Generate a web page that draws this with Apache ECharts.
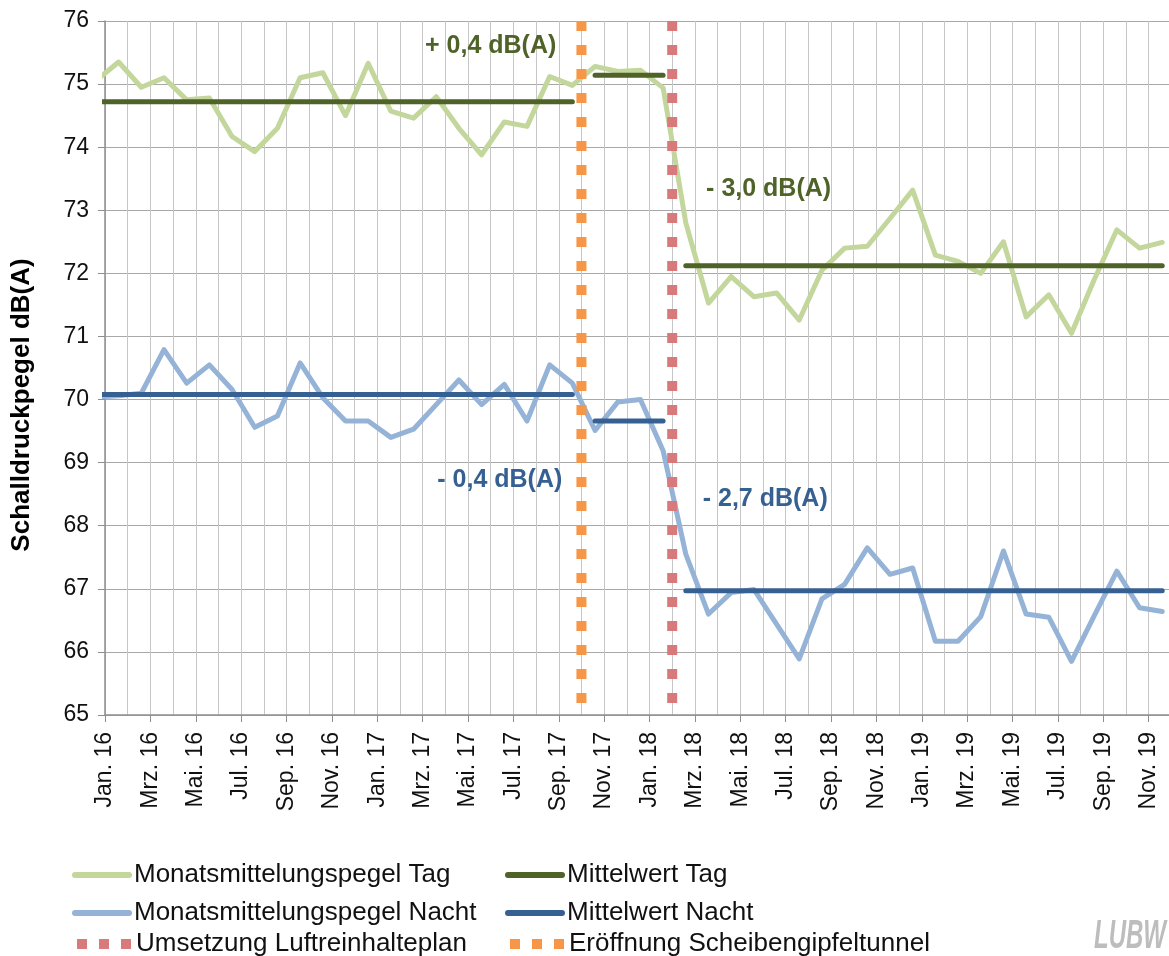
<!DOCTYPE html>
<html>
<head>
<meta charset="utf-8">
<title>Schalldruckpegel</title>
<script src="https://cdn.jsdelivr.net/npm/echarts@6/dist/echarts.min.js"></script>
<style>
  html, body { margin: 0; padding: 0; background: #fff; }
  #chart { width: 1169px; height: 956px; }
</style>
</head>
<body>
<div id="chart"></div>
<script>
// Monate der Messwerte (Dez. 15 liegt links vor der Achse und wird abgeschnitten)
const months = [
  'Dez. 15',
  'Jan. 16', 'Feb. 16', 'Mrz. 16', 'Apr. 16', 'Mai. 16', 'Jun. 16', 'Jul. 16', 'Aug. 16', 'Sep. 16', 'Okt. 16', 'Nov. 16', 'Dez. 16',
  'Jan. 17', 'Feb. 17', 'Mrz. 17', 'Apr. 17', 'Mai. 17', 'Jun. 17', 'Jul. 17', 'Aug. 17', 'Sep. 17', 'Okt. 17', 'Nov. 17', 'Dez. 17',
  'Jan. 18', 'Feb. 18', 'Mrz. 18', 'Apr. 18', 'Mai. 18', 'Jun. 18', 'Jul. 18', 'Aug. 18', 'Sep. 18', 'Okt. 18', 'Nov. 18', 'Dez. 18',
  'Jan. 19', 'Feb. 19', 'Mrz. 19', 'Apr. 19', 'Mai. 19', 'Jun. 19', 'Jul. 19', 'Aug. 19', 'Sep. 19', 'Okt. 19', 'Nov. 19'
]

// Achsenbeschriftung (jeder zweite Monat)
const tickLabels = [
  'Jan. 16', 'Mrz. 16', 'Mai. 16', 'Jul. 16', 'Sep. 16', 'Nov. 16',
  'Jan. 17', 'Mrz. 17', 'Mai. 17', 'Jul. 17', 'Sep. 17', 'Nov. 17',
  'Jan. 18', 'Mrz. 18', 'Mai. 18', 'Jul. 18', 'Sep. 18', 'Nov. 18',
  'Jan. 19', 'Mrz. 19', 'Mai. 19', 'Jul. 19', 'Sep. 19', 'Nov. 19'
]

// Monatsmittelungspegel Tag, dB(A)
const dayLevels = [
  75.05,
  75.35, 74.95, 75.10, 74.75, 74.78, 74.17, 73.93, 74.30, 75.10, 75.18, 74.50, 75.33,
  74.57, 74.46, 74.80, 74.30, 73.88, 74.40, 74.33, 75.12, 74.98, 75.28, 75.20, 75.22,
  74.94, 72.80, 71.53, 71.95, 71.63, 71.69, 71.26, 72.05, 72.40, 72.43, 72.87, 73.32,
  72.29, 72.19, 72.00, 72.50, 71.31, 71.66, 71.05, 71.90, 72.69, 72.40, 72.49
]

// Monatsmittelungspegel Nacht, dB(A)
const nightLevels = [
  70.04,
  70.06, 70.10, 70.79, 70.26, 70.55, 70.16, 69.56, 69.74, 70.58, 70.03, 69.66, 69.66,
  69.40, 69.53, 69.92, 70.31, 69.92, 70.24, 69.66, 70.55, 70.26, 69.51, 69.96, 70.00,
  69.19, 67.55, 66.60, 66.94, 66.99, 66.44, 65.89, 66.84, 67.07, 67.65, 67.23, 67.33,
  66.17, 66.17, 66.56, 67.60, 66.60, 66.55, 65.85, 66.57, 67.28, 66.70, 66.64
]

// Zeitabschnitte und Mittelwerte
const periodStarts = ['Dez. 15', 'Okt. 17', 'Feb. 18']
const meanDay = [74.72, 75.14, 72.12]
const meanNight = [70.08, 69.66, 66.97]

// Ereignisse (Monatsbeginn)
const eventNames = ['Umsetzung Luftreinhalteplan', 'Eröffnung Scheibengipfeltunnel']
const eventMonths = ['Feb. 18', 'Okt. 17']

const yMin = 65
const yMax = 76

const C = {
  dayLight: '#c3d69b',
  dayDark: '#4f6228',
  nightLight: '#95b3d7',
  nightDark: '#376092',
  plan: '#d8797c',
  tunnel: '#f79646'
}
const FONT = '"Liberation Sans", Arial, sans-serif'
const DOTS = [10, 14]

// Messpunkt liegt etwa in der Monatsmitte
const pointOffset = 0.6
const xOf = i => i - 1 + pointOffset

const lineSeries = (name, values, color) => ({
  name,
  type: 'line',
  data: values.map((v, i) => [xOf(i), v]),
  symbol: 'none',
  lineStyle: { color, width: 5, cap: 'round', join: 'round' },
  itemStyle: { color },
  z: 2
})

const starts = periodStarts.map(m => months.indexOf(m))
const meanSeries = (name, means, color) => means.map((m, k) => {
  const a = starts[k]
  const b = k + 1 < starts.length ? starts[k + 1] - 1 : months.length - 1
  const data = []
  for (let i = a; i <= b; i++) data.push([xOf(i), m])
  return {
    name,
    type: 'line',
    data,
    symbol: 'none',
    lineStyle: { color, width: 5, cap: 'round' },
    itemStyle: { color },
    z: 3
  }
})

const eventSeries = eventNames.map((name, k) => {
  const x = months.indexOf(eventMonths[k]) - 1
  const color = k === 0 ? C.plan : C.tunnel
  return {
    name,
    type: 'line',
    data: [[x, yMax], [x, yMin]],
    symbol: 'none',
    lineStyle: { color, width: 10, type: DOTS, cap: 'butt' },
    itemStyle: { color },
    z: 4
  }
})

const fmtDiff = d => (d >= 0 ? '+ ' : '- ') + Math.abs(d).toFixed(1).replace('.', ',') + ' dB(A)'

const notes = [
  { text: fmtDiff(meanDay[1] - meanDay[0]), at: [17.0, 75.6], color: C.dayDark },
  { text: fmtDiff(meanDay[2] - meanDay[1]), at: [29.25, 73.33], color: C.dayDark },
  { text: fmtDiff(meanNight[1] - meanNight[0]), at: [17.4, 68.73], color: C.nightDark },
  { text: fmtDiff(meanNight[2] - meanNight[1]), at: [29.1, 68.42], color: C.nightDark }
]

// Legende: 3 Zeilen x 2 Spalten, je Zelle eine eigene Legende
const legendRows = [
  ['Monatsmittelungspegel Tag', 'Mittelwert Tag'],
  ['Monatsmittelungspegel Nacht', 'Mittelwert Nacht'],
  ['Umsetzung Luftreinhalteplan', 'Eröffnung Scheibengipfeltunnel']
]
const rowTops = [862, 900, 931]
const colLefts = [72, 505]

const legends = []
legendRows.forEach((row, r) => {
  row.forEach((name, c) => {
    const dotted = eventNames.includes(name)
    legends.push({
      orient: 'horizontal',
      left: colLefts[c],
      top: rowTops[r],
      padding: 0,
      itemWidth: 54,
      itemHeight: 14,
      selectedMode: false,
      itemStyle: { opacity: 0 },
      textStyle: { fontFamily: FONT, fontSize: 26, color: '#111' },
      data: [{
        name,
        lineStyle: dotted
          ? { width: 10, type: [10, 12], cap: 'butt' }
          : { width: 6, cap: 'round' }
      }]
    })
  })
})

const chart = echarts.init(document.getElementById('chart'))

chart.setOption({
  animation: false,
  backgroundColor: '#fff',
  grid: {
    left: 105,
    top: 21,
    bottom: 241,
    right: -25,
    containLabel: false,
    outerBoundsMode: 'none'
  },
  legend: legends,
  xAxis: {
    type: 'value',
    min: 0,
    max: 48,
    interval: 2,
    axisLine: { show: true, lineStyle: { color: '#8e8e8e', width: 1.5 } },
    axisTick: { show: true, length: 7, lineStyle: { color: '#8e8e8e' } },
    axisLabel: {
      rotate: 90,
      fontFamily: FONT,
      fontSize: 23,
      color: '#111',
      margin: 17,
      formatter: v => tickLabels[v / 2] || ''
    },
    splitLine: { show: true, lineStyle: { color: '#c6c6c6', width: 1 } },
    minorTick: { show: false, splitNumber: 2 },
    minorSplitLine: { show: true, lineStyle: { color: '#c6c6c6', width: 1 } }
  },
  yAxis: {
    type: 'value',
    min: yMin,
    max: yMax,
    interval: 1,
    axisLine: { show: true, lineStyle: { color: '#8e8e8e', width: 1.5 } },
    axisTick: { show: true, length: 7, lineStyle: { color: '#8e8e8e' } },
    axisLabel: { fontFamily: FONT, fontSize: 23, color: '#111', margin: 16 },
    splitLine: { show: true, lineStyle: { color: '#a8a8a8', width: 1.2 } }
  },
  series: [
    lineSeries('Monatsmittelungspegel Tag', dayLevels, C.dayLight),
    lineSeries('Monatsmittelungspegel Nacht', nightLevels, C.nightLight),
    ...meanSeries('Mittelwert Tag', meanDay, C.dayDark),
    ...meanSeries('Mittelwert Nacht', meanNight, C.nightDark),
    ...eventSeries
  ]
})

// Beschriftungen an Datenkoordinaten setzen
const noteGraphics = notes.map(n => {
  const [px, py] = chart.convertToPixel({ gridIndex: 0 }, n.at)
  return {
    type: 'text',
    x: px,
    y: py,
    z: 10,
    style: {
      text: n.text,
      fill: n.color,
      font: 'bold 25px ' + FONT,
      align: 'center',
      verticalAlign: 'middle'
    }
  }
})

chart.setOption({
  graphic: [
    ...noteGraphics,
    {
      // Achsentitel
      type: 'text',
      x: 22,
      y: 405,
      rotation: Math.PI / 2,
      style: {
        text: 'Schalldruckpegel dB(A)',
        fill: '#000',
        font: 'bold 26px ' + FONT,
        align: 'center',
        verticalAlign: 'middle'
      }
    },
    {
      type: 'text',
      x: 1094,
      y: 957,
      scaleX: 0.6,
      style: {
        text: 'LUBW',
        fill: '#bdbdbd',
        font: 'italic bold 40px ' + FONT,
        align: 'left',
        verticalAlign: 'bottom'
      }
    }
  ]
})

window.addEventListener('resize', () => chart.resize())
</script>
</body>
</html>
